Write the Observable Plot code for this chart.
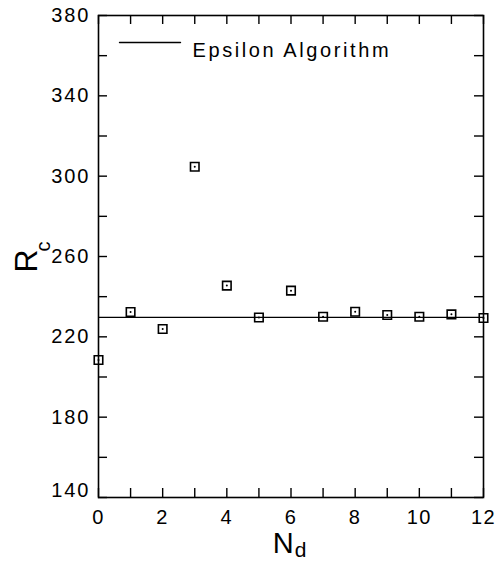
<!DOCTYPE html>
<html><head><meta charset="utf-8">
<script src="https://cdn.jsdelivr.net/npm/d3@7"></script>
<script src="https://cdn.jsdelivr.net/npm/@observablehq/plot@0.6"></script>
<style>body{margin:0;background:#fff}</style>
</head><body><div id="chart"></div>
<script>
const nd = [0, 1, 2, 3, 4, 5, 6, 7, 8, 9, 10, 11, 12];
const rc = [208.5, 232.4, 223.9, 304.7, 245.5, 229.6, 243.0, 230.0, 232.5, 230.9, 230.0, 231.2, 229.4];
const epsilonValue = [229.7];
const legendLabel = ["Epsilon Algorithm"];
const xLabelTicks = [0, 2, 4, 6, 8, 10, 12];
const xAllTicks = [0, 1, 2, 3, 4, 5, 6, 7, 8, 9, 10, 11, 12];
const yLabelTicks = [180, 220, 260, 300, 340, 380];
const yBottomLabel = [140];
const yAllTicks = [140, 160, 180, 200, 220, 240, 260, 280, 300, 320, 340, 360, 380];

const points = nd.map((n, i) => ({nd: n, rc: rc[i]}));
const font = "Liberation Sans, Arial, sans-serif";

const W = 501, H = 568, ML = 98, MR = 18, MT = 15, MB = 71;
const PW = W - ML - MR, PH = H - MT - MB;
const T = 9;

const lineShape = {draw(ctx, l) { ctx.moveTo(0, 0); ctx.lineTo(0, -l); }};

const plot = Plot.plot({
  width: W, height: H,
  marginLeft: ML, marginRight: MR, marginTop: MT, marginBottom: MB,
  style: {fontFamily: font, background: "#fff", color: "#000"},
  x: {domain: [0, 12]},
  y: {domain: [140, 380]},
  marks: [
    Plot.tickX(xAllTicks, {x: d => d, insetTop: PH - T, stroke: "#000", strokeWidth: 1.4}),
    Plot.tickX(xAllTicks, {x: d => d, insetBottom: PH - T, stroke: "#000", strokeWidth: 1.4}),
    Plot.tickY(yAllTicks, {y: d => d, insetRight: PW - T, stroke: "#000", strokeWidth: 1.4}),
    Plot.tickY(yAllTicks, {y: d => d, insetLeft: PW - T, stroke: "#000", strokeWidth: 1.4}),
    Plot.axisX({ticks: xLabelTicks, anchor: "bottom", tickSize: 0, tickPadding: 12, fontSize: 20, label: null, fill: "#000"}),
    Plot.axisY({ticks: yLabelTicks, anchor: "left", tickSize: 0, tickPadding: 8, fontSize: 20, label: null, fill: "#000"}),
    Plot.axisY({ticks: yBottomLabel, anchor: "left", tickSize: 0, tickPadding: 8, fontSize: 20, label: null, dy: -7, fill: "#000"}),
    Plot.frame({stroke: "#000", strokeWidth: 1.6}),
    Plot.ruleY(epsilonValue, {stroke: "#000", strokeWidth: 1.4}),
    Plot.dot(points, {x: "nd", y: "rc", symbol: "square", r: 4.8, stroke: "#000", strokeWidth: 1.6, fill: "none"}),
    Plot.dot(points, {x: "nd", y: "rc", r: 1, fill: "#000", stroke: null}),
    Plot.vector(legendLabel, {frameAnchor: "top-left", dx: 21, dy: 27, rotate: 90, length: 61, anchor: "start", shape: lineShape, stroke: "#000", strokeWidth: 1.4}),
    Plot.text(legendLabel, {frameAnchor: "top-left", dx: 94, dy: 27, textAnchor: "start", fontSize: 20, fill: "#000"})
  ]
});

document.getElementById("chart").appendChild(plot);

const svg = d3.select(plot);
svg.selectAll('[aria-label="text"] text').style("letter-spacing", "2.6px");
svg.selectAll('[aria-label="y-axis tick label"] text').style("letter-spacing", "2px");
svg.selectAll('[aria-label="x-axis tick label"] text').style("letter-spacing", "1.5px");

const xs = plot.scale("x"), ys = plot.scale("y");

const xl = svg.append("text")
  .attr("x", xs.apply(6) - 1).attr("y", 553)
  .attr("text-anchor", "middle")
  .attr("font-family", font).attr("fill", "#000");
xl.append("tspan").attr("font-size", 29).text("N");
xl.append("tspan").attr("font-size", 21).attr("dy", 4).attr("dx", 1).text("d");

const yl = svg.append("text")
  .attr("transform", `translate(37,${ys.apply(260) + 1}) rotate(-90)`)
  .attr("text-anchor", "middle")
  .attr("font-family", font).attr("fill", "#000");
yl.append("tspan").attr("font-size", 32).text("R");
yl.append("tspan").attr("font-size", 20).attr("dy", 13).attr("dx", -2).text("c");
</script>
</body></html>
